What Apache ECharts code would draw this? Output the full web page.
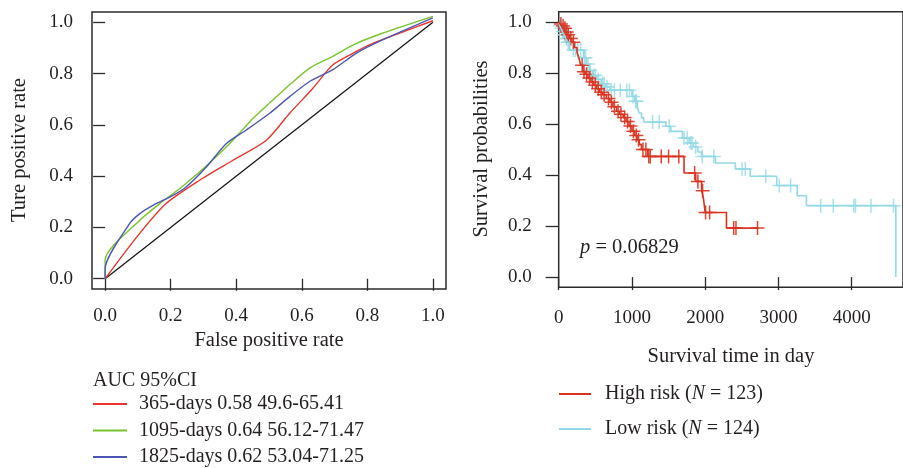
<!DOCTYPE html>
<html>
<head>
<meta charset="utf-8">
<script src="https://cdn.jsdelivr.net/npm/echarts@6/dist/echarts.min.js"></script>
<style>
  html, body { margin: 0; padding: 0; background: #fff; }
  #chart { width: 903px; height: 468px; }
</style>
</head>
<body>
<div id="chart"></div>
<script>
// ---- ROC curves (false positive rate, true positive rate) ----
const roc365 = [[0,0],[0.1,0.168],[0.186,0.293],[0.288,0.384],[0.39,0.462],[0.492,0.54],[0.563,0.645],[0.634,0.743],[0.695,0.834],[0.757,0.88],[0.808,0.913],[0.899,0.958],[1,1.006]];
const roc1095 = [[0,0],[0,0.073],[0.105,0.227],[0.166,0.292],[0.227,0.351],[0.288,0.416],[0.349,0.488],[0.4,0.554],[0.451,0.625],[0.512,0.697],[0.563,0.756],[0.624,0.821],[0.695,0.867],[0.757,0.912],[0.848,0.958],[1,1.023]];
const roc1825 = [[0,0],[0,0.038],[0.074,0.214],[0.105,0.253],[0.146,0.286],[0.207,0.325],[0.247,0.358],[0.309,0.436],[0.37,0.527],[0.431,0.58],[0.502,0.645],[0.563,0.71],[0.624,0.769],[0.695,0.815],[0.767,0.88],[0.848,0.932],[1,1.017]];
const rocDiagonal = [[0,0],[1,1]];
const rocNames = ['365-days 0.58 49.6-65.41', '1095-days 0.64 56.12-71.47', '1825-days 0.62 53.04-71.25'];
const rateTicks = [0, 0.2, 0.4, 0.6, 0.8, 1.0];

// ---- Kaplan-Meier curves: event times (days) and survival after each step ----
const highTime = [0, 20, 45, 70, 95, 120, 150, 180, 215, 250, 275, 300, 330, 360, 400, 440, 480, 520, 560, 600, 650, 700, 740, 790, 830, 880, 920, 960, 1000, 1040, 1070, 1100, 1130, 1214, 1711, 1870, 1951, 1975, 1988, 2000, 2290, 2727];
const highSurv = [1.0, 0.992, 0.984, 0.975, 0.96, 0.95, 0.935, 0.92, 0.9, 0.88, 0.86, 0.83, 0.805, 0.795, 0.78, 0.765, 0.752, 0.738, 0.724, 0.715, 0.70, 0.685, 0.668, 0.65, 0.638, 0.625, 0.61, 0.592, 0.572, 0.555, 0.538, 0.52, 0.5, 0.473, 0.408, 0.375, 0.338, 0.31, 0.28, 0.253, 0.192, 0.192];
const highCensor = [30, 60, 85, 110, 130, 165, 200, 320, 345, 380, 420, 460, 500, 540, 580, 620, 680, 720, 760, 810, 850, 900, 940, 980, 1020, 1060, 1090, 1150, 1190, 1230, 1250, 1400, 1500, 1640, 1856, 1900, 1965, 2005, 2060, 2389, 2420, 2714];

const lowTime = [0, 15, 30, 50, 70, 95, 120, 150, 340, 380, 420, 460, 520, 580, 640, 700, 1000, 1040, 1075, 1100, 1130, 1160, 1463, 1530, 1690, 1780, 1840, 1900, 1950, 2140, 2412, 2615, 2976, 3256, 3382, 4602];
const lowSurv = [1.0, 0.985, 0.975, 0.962, 0.95, 0.935, 0.92, 0.89, 0.86, 0.835, 0.81, 0.79, 0.775, 0.758, 0.745, 0.732, 0.708, 0.689, 0.663, 0.643, 0.624, 0.608, 0.591, 0.571, 0.545, 0.525, 0.51, 0.49, 0.473, 0.447, 0.424, 0.395, 0.359, 0.319, 0.28, 0];
const lowCensor = [25, 40, 55, 60, 80, 90, 105, 110, 130, 140, 200, 230, 260, 300, 350, 365, 400, 430, 480, 500, 540, 600, 620, 660, 718, 760, 840, 930, 966, 1015, 1050, 1060, 1282, 1372, 1508, 1711, 1756, 1801, 1820, 1870, 1960, 2118, 2502, 2547, 2827, 3012, 3166, 3577, 3748, 4028, 4052, 4263, 4570];
const dayTicks = [0, 1000, 2000, 3000, 4000];
const pValueText = '0.06829';
const groupLabels = { 'High risk': '123', 'Low risk': '124' };

// survival level in effect at a given time (step function)
function survAt(times, surv, t) {
  let s = surv[0];
  for (let i = 0; i < times.length; i++) { if (times[i] <= t) s = surv[i]; else break; }
  return s;
}
const pairs = (xs, ys) => xs.map((x, i) => [x, ys[i]]);

const FONT = 'Liberation Serif';
const INK = '#231f20';
const AXIS = '#2b2b2b';
const RED = '#e8362b', GREEN = '#78c42a', BLUE = '#4d57b3';
const KM_RED = '#d9321f', KM_CYAN = '#92d9e6';
const plus = 'path://M0,-7L0,7M-7,0L7,0';
const TICK_FS = 19, TITLE_FS = 20.5, LEG_FS = 20;

const chart = echarts.init(document.getElementById('chart'), null, { renderer: 'canvas' });

function rateAxis(gridIndex, tickLen, labelMargin) {
  return {
    gridIndex: gridIndex, type: 'value', min: -0.04, max: 1.04,
    axisLine: { show: false },
    splitLine: { show: false },
    axisTick: { show: true, customValues: rateTicks, length: tickLen, lineStyle: { color: AXIS, width: 1.3 } },
    axisLabel: { customValues: rateTicks, formatter: v => v.toFixed(1), fontFamily: FONT, fontSize: TICK_FS, color: INK, margin: labelMargin }
  };
}

const option = {
  animation: false,
  backgroundColor: '#fff',
  grid: [
    { left: 92, top: 12, width: 354, height: 277, show: true, borderColor: AXIS, borderWidth: 1.5, backgroundColor: 'transparent' },
    { left: 558.7, top: 11.7, right: -3, height: 275.6, show: true, borderColor: AXIS, borderWidth: 1.5, backgroundColor: 'transparent' }
  ],
  xAxis: [
    rateAxis(0, 12, 18),
    {
      gridIndex: 1, type: 'value', min: 0, max: 4700,
      axisLine: { show: false }, splitLine: { show: false },
      axisTick: { customValues: dayTicks, length: 13, lineStyle: { color: AXIS, width: 1.3 } },
      axisLabel: { customValues: dayTicks, formatter: v => String(v), fontFamily: FONT, fontSize: TICK_FS, color: INK, margin: 21 }
    }
  ],
  yAxis: [
    rateAxis(0, 12, 19),
    rateAxis(1, 13, 27)
  ],
  legend: [
    {
      data: rocNames, orient: 'vertical', left: 93, top: 394, height: 90, padding: 0,
      itemWidth: 34, itemHeight: 2, icon: 'rect', itemGap: 6.5, selectedMode: false,
      textStyle: { fontFamily: FONT, fontSize: LEG_FS, color: INK, padding: [0, 0, 0, 7] }
    },
    {
      data: ['High risk', 'Low risk'], orient: 'vertical', left: 559, top: 384, height: 90, padding: 0,
      itemWidth: 32, itemHeight: 2, icon: 'rect', itemGap: 15, selectedMode: false,
      formatter: name => name + ' ({i|N} = ' + groupLabels[name] + ')',
      textStyle: { fontFamily: FONT, fontSize: LEG_FS, color: INK, padding: [0, 0, 0, 9],
        rich: { i: { fontFamily: FONT, fontSize: LEG_FS, fontStyle: 'italic', color: INK } } }
    }
  ],
  graphic: [
    { type: 'text', left: 93, top: 371, style: { text: 'AUC 95%CI', font: LEG_FS + 'px "Liberation Serif"', fill: INK } },
    { type: 'text', x: 269, y: 341, style: { text: 'False positive rate', font: TITLE_FS + 'px "Liberation Serif"', fill: INK, align: 'center', verticalAlign: 'middle' } },
    { type: 'text', x: 20, y: 150, rotation: Math.PI / 2, style: { text: 'Ture positive rate', font: TITLE_FS + 'px "Liberation Serif"', fill: INK, align: 'center', verticalAlign: 'middle' } },
    { type: 'text', x: 731, y: 357, style: { text: 'Survival time in day', font: TITLE_FS + 'px "Liberation Serif"', fill: INK, align: 'center', verticalAlign: 'middle' } },
    { type: 'text', x: 482, y: 149, rotation: Math.PI / 2, style: { text: 'Survival probabilities', font: TITLE_FS + 'px "Liberation Serif"', fill: INK, align: 'center', verticalAlign: 'middle' } },
    { type: 'text', x: 580, y: 248, style: {
        text: '{i|p} = ' + pValueText, font: TITLE_FS + 'px "Liberation Serif"', fill: INK, verticalAlign: 'middle',
        rich: { i: { font: 'italic ' + TITLE_FS + 'px "Liberation Serif"', fill: INK } } } }
  ],
  series: [
    { type: 'line', name: 'diagonal', xAxisIndex: 0, yAxisIndex: 0, data: rocDiagonal, symbol: 'none',
      lineStyle: { color: '#111', width: 1.2 }, silent: true },
    { type: 'line', name: rocNames[0], xAxisIndex: 0, yAxisIndex: 0, data: roc365, symbol: 'none', smooth: 0.25,
      color: RED, lineStyle: { color: RED, width: 1.4 } },
    { type: 'line', name: rocNames[1], xAxisIndex: 0, yAxisIndex: 0, data: roc1095, symbol: 'none', smooth: 0.25,
      color: GREEN, lineStyle: { color: GREEN, width: 1.4 } },
    { type: 'line', name: rocNames[2], xAxisIndex: 0, yAxisIndex: 0, data: roc1825, symbol: 'none', smooth: 0.25,
      color: BLUE, lineStyle: { color: BLUE, width: 1.4 } },

    { type: 'line', name: 'Low risk', xAxisIndex: 1, yAxisIndex: 1, data: pairs(lowTime, lowSurv), step: 'end', symbol: 'none',
      color: KM_CYAN, lineStyle: { color: KM_CYAN, width: 1.6 } },
    { type: 'scatter', name: 'Low risk censored', xAxisIndex: 1, yAxisIndex: 1,
      data: lowCensor.map(t => [t, survAt(lowTime, lowSurv, t)]),
      symbol: plus, symbolSize: 14, itemStyle: { color: 'transparent', borderColor: KM_CYAN, borderWidth: 1.5 } },
    { type: 'line', name: 'High risk', xAxisIndex: 1, yAxisIndex: 1, data: pairs(highTime, highSurv), step: 'end', symbol: 'none',
      color: KM_RED, lineStyle: { color: KM_RED, width: 1.6 } },
    { type: 'scatter', name: 'High risk censored', xAxisIndex: 1, yAxisIndex: 1,
      data: highCensor.map(t => [t, survAt(highTime, highSurv, t)]),
      symbol: plus, symbolSize: 14, itemStyle: { color: 'transparent', borderColor: KM_RED, borderWidth: 1.5, opacity: 0.9 } }
  ]
};
chart.setOption(option);
</script>
</body>
</html>
